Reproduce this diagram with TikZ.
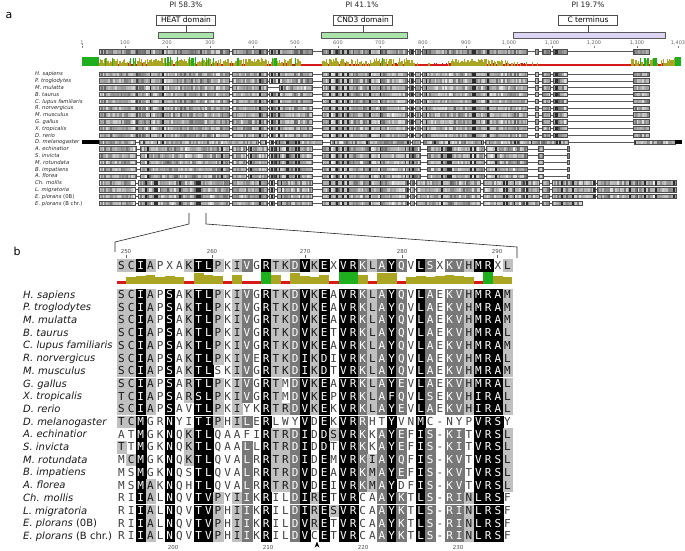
\documentclass[tikz,border=0pt]{standalone}
\usepackage{fontspec}
\setmainfont{DejaVu Sans}
\newfontfamily\alnmono{DejaVu Sans Mono}
\definecolor{olivebar}{RGB}{170,165,35}
\definecolor{greenbar}{RGB}{30,175,30}
\definecolor{redbar}{RGB}{215,25,25}
\definecolor{domgreen}{RGB}{170,228,170}
\definecolor{dompurple}{RGB}{222,212,246}
\definecolor{lgray}{RGB}{192,192,192}
\definecolor{dgray}{RGB}{120,120,120}

\ExplSyntaxOn
\int_new:N \l_aln_count_int
\int_new:N \l_aln_sum_int
\tl_new:N \l_aln_a_tl
\tl_new:N \l_aln_b_tl
\tl_new:N \alnchar
\tl_new:N \alnlevel
\tl_new:N \alnident
\str_const:Nn \c_aln_pairs_str {,AS,SA,ST,TS,SN,NS,ND,DN,NH,HN,DE,ED,QE,EQ,QK,KQ,QR,RQ,EK,KE,RK,KR,HY,YH,IL,LI,IM,MI,IV,VI,LM,ML,LV,VL,MV,VM,FY,YF,FW,WF,WY,YW,}
\cs_new_protected:Npn \aln_level:nn #1#2
 {
  \tl_set:Nx \l_aln_a_tl { \exp_args:Nc \str_item:Nn { c_aln_row_#1_str } {#2} }
  \int_zero:N \l_aln_count_int
  \int_step_inline:nn { 20 }
   {
    \tl_set:Nx \l_aln_b_tl { \exp_args:Nc \str_item:Nn { c_aln_row_##1_str } {#2} }
    \str_if_eq:VVTF \l_aln_a_tl \l_aln_b_tl
     { \int_incr:N \l_aln_count_int }
     {
      \exp_args:NNx \str_if_in:NnT \c_aln_pairs_str { , \l_aln_a_tl \l_aln_b_tl , }
       { \int_incr:N \l_aln_count_int }
     }
   }
  \str_if_eq:VnT \l_aln_a_tl { - } { \int_zero:N \l_aln_count_int }
  \str_if_eq:VnT \l_aln_a_tl { X } { \int_zero:N \l_aln_count_int }
  \tl_gset:Nx \alnchar { \l_aln_a_tl }
  \tl_gset:Nx \alnlevel
   {
    \int_compare:nNnTF \l_aln_count_int = {20} {3}
     {
      \int_compare:nNnTF \l_aln_count_int > {15} {2}
       { \int_compare:nNnTF \l_aln_count_int > {11} {1} {0} }
     }
   }
  \str_if_exist:cT { c_aln_shade_#1_str }
   { \tl_gset:Nx \alnlevel { \exp_args:Nc \str_item:Nn { c_aln_shade_#1_str } {#2} } }
 }
\cs_new_protected:Npn \aln_ident:n #1
 {
  \int_zero:N \l_aln_sum_int
  \int_step_inline:nn {20}
   {
    \tl_set:Nx \l_aln_a_tl { \exp_args:Nc \str_item:Nn { c_aln_row_##1_str } {#1} }
    \int_step_inline:nn {20}
     {
      \tl_set:Nx \l_aln_b_tl { \exp_args:Nc \str_item:Nn { c_aln_row_####1_str } {#1} }
      \str_if_eq:VVT \l_aln_a_tl \l_aln_b_tl { \int_incr:N \l_aln_sum_int }
     }
   }
  \tl_gset:Nx \alnident { \fp_eval:n { (\l_aln_sum_int - 20)/380 } }
 }
\NewDocumentCommand \alnsetrow { m m } { \str_const:cn { c_aln_row_#1_str } {#2} }
\NewDocumentCommand \alnsetshade { m m } { \str_const:cn { c_aln_shade_#1_str } {#2} }
\NewDocumentCommand \alnlevelof { m m } { \aln_level:nn {#1} {#2} }
\NewDocumentCommand \alnidentof { m } { \aln_ident:n {#1} }
\ExplSyntaxOff

\alnsetrow{0}{SCIAPXAKTLPKIVGRTKDVKEXVRKLAYQVLSXKVHMRXL}
\alnsetrow{1}{SCIAPSAKTLPKIVGRTKDVKEAVRKLAYQVLAEKVHMRAM}
\alnsetrow{2}{SCIAPSAKTLPKIVGRTKDVKEAVRKLAYQVLAEKVHMRAM}
\alnsetrow{3}{SCIAPSAKTLPKIVGRTKDVKEAVRKLAYQVLAEKVHMRAM}
\alnsetrow{4}{SCIAPSAKTLPKIVGRTKDVKETVRKLAYQVLAEKVHMRAL}
\alnsetrow{5}{SCIAPSAKTLPKIVGRTKDVKEAVRKLAYQVLAEKVHMRAM}
\alnsetrow{6}{SCIAPSAKTLPKIVERTKDIKDIVRKLAYQVLAEKVHMRAL}
\alnsetrow{7}{SCIAPSAKTLSKIVGRTKDIKDTVRKLAYQVLAEKVHMRAM}
\alnsetrow{8}{SCIAPSARTLPKIVGRTMDVKEAVRKLAYEVLAEKVHMRAL}
\alnsetrow{9}{TCIAPSARSLPKIVGRTMDVKEPVRKLAFQVLSEKVHIRAL}
\alnsetrow{10}{SCIAPSAVTLPKIYKRTRDVKEKVRKLAYEVLAEKVHIRAL}
\alnsetrow{11}{TCMGRNYITIPHILERLWYVDEKVRRHTYVNMC-NYPVRSY}
\alnsetrow{12}{ATMGKNQKTLQAAFIRTRDIDDSVRKKAYEFIS-KITVRSL}
\alnsetrow{13}{TTMGKNQKTLQAALLRTRDIDDTVRKKAYEFIS-KITVRSL}
\alnsetrow{14}{MCMGKNQKTLQVALRRTRDIDEMVRKIAYQFIS-KVTVRSL}
\alnsetrow{15}{MSMGKNQSTLQVALRRTRDVDEAVRKMAYEFIS-KVTVRSL}
\alnsetrow{16}{MSMAKNQHTLQVALRRTRDVDEIVRKMAYDFIS-KVTVRSL}
\alnsetrow{17}{RIIALNQVTVPYIIKRILDIRETVRCAAYKTLS-RINLRSF}
\alnsetrow{18}{RIIALNQVTVPHIIKRILDIRESVRCAAYKTLS-RINLRSF}
\alnsetrow{19}{RIIALNQVTVPHIIKRILDVRETVRCAAYKTLS-RINLRSF}
\alnsetrow{20}{RIIALNQVTVPHIIKRILDVCETVRCAAYKTLS-RINLRSF}

% striped overview segment: start, end, y, seed, shift
\newcommand\aseg[5]{%
  \begin{scope}
    \clip (#1,#3-2.2) rectangle (#2,#3+2.2);
    \pgfmathtruncatemacro\nst{(#2-#1)/1.8}%
    \foreach \k in {0,...,\nst}{%
      \pgfmathsetmacro\xx{#1+\k*1.8}%
      \pgfmathsetmacro\hx{mod(abs(sin(\xx*7.8233))*997,1)}%
      \pgfmathsetmacro\hr{mod(abs(sin(\xx*3.917+#4*37.1))*991,1)}%
      \pgfmathtruncatemacro\wv{\hx>0.92 ? 18 : min(97,max(10,38+60*(0.55*\hx+0.45*\hr)+#5))}%
      \fill[white!\wv!black] (\xx,#3-2.2) rectangle (\xx+1.9,#3+2.2);
    }
  \end{scope}
  \draw[segbox] (#1,#3-2.2) rectangle (#2,#3+2.2);
}
\newcommand\arow[5]{%
  \draw[gapline] (#4,#1) -- (#5,#1);
  \foreach \sa/\sb in #3 {\aseg{\sa}{\sb}{#1}{#2}{0}}
}
\def\vsegs{99/136,137/229,232/267,269/312,322/407,409/413,415/420,422/527,535/538,542/550,553/567,633/649}
\def\vsegsM{99/136,137/229,232/267,279/312,322/407,409/413,415/420,422/527,535/538,542/550,553/567,633/649}
\def\isegs{99/136,140/229,232/246,248/267,269/274,275/312,322/405,405/420,427/484,486/527,538/543,567/569}
\def\osegs{99/135,138/229,232/267,269/274,277/312,322/408,410/414,416/480,483/523,524/539,542/549,552/595,597/637,637/676}
\def\obsegs{99/135,138/229,232/267,269/274,277/312,322/408,410/414,416/480,483/523,524/539,542/549,552/582}
\def\dsegs{99/135,139/143,144/258,260/266,269/273,275/322,330/410,412/420,423/483,485/517,518/568,634/675}
\def\splist{1/{\textit{H. sapiens}},2/{\textit{P. troglodytes}},3/{\textit{M. mulatta}},4/{\textit{B. taurus}},5/{\textit{C. lupus familiaris}},6/{\textit{R. norvergicus}},7/{\textit{M. musculus}},8/{\textit{G. gallus}},9/{\textit{X. tropicalis}},10/{\textit{D. rerio}},11/{\textit{D. melanogaster}},12/{\textit{A. echinatior}},13/{\textit{S. invicta}},14/{\textit{M. rotundata}},15/{\textit{B. impatiens}},16/{\textit{A. florea}},17/{\textit{Ch. mollis}},18/{\textit{L. migratoria}},19/{\textit{E. plorans} (0B)},20/{\textit{E. plorans} (B chr.)}}

\begin{document}
\begin{tikzpicture}[x=1pt,y=-1pt,
  gapline/.style={line width=0.5pt,black!65},
  segbox/.style={line width=0.35pt,black!70},
  panellab/.style={font=\fontsize{11}{12}\selectfont,anchor=base west},
  pilab/.style={font=\fontsize{7.5}{8}\selectfont,text=black!85},
  dombox/.style={draw=black!70,line width=0.5pt,fill=white,minimum width=59pt,minimum height=10pt,inner sep=0pt,font=\fontsize{7.5}{8}\selectfont},
  dombar/.style={draw=black!65,line width=0.5pt,minimum height=6pt,inner sep=0pt},
  rulerlab/.style={font=\fontsize{5}{5}\selectfont,text=black!60},
  speca/.style={font=\fontsize{5.3}{6}\selectfont,text=black!85,anchor=base west,inner sep=0pt},
  specb/.style={font=\fontsize{10}{12}\selectfont,text=black!90,anchor=base west,inner sep=0pt},
  cellbase/.style={minimum width=9.65pt,minimum height=11.5pt,inner sep=0pt,text height=8pt,text depth=0pt,font=\alnmono\fontsize{11}{11}\selectfont},
  cellA/.style={cellbase,text=black!75},
  cellB/.style={cellbase,fill=lgray,draw=lgray,line width=0.2pt,text=black!90},
  cellC/.style={cellbase,fill=dgray,draw=dgray,line width=0.2pt,text=white},
  cellD/.style={cellbase,fill=black,draw=black,line width=0.2pt,text=white},
  numlab/.style={font=\fontsize{5.5}{6}\selectfont,text=black!70},
  zoomline/.style={line width=0.6pt,black!85}]
\useasboundingbox (0,0) rectangle (685,551);

% ---------------- panel a ----------------
\node[panellab] (la) at (2,18.5) {a};

\node[pilab] (pi1) at (186,4.5) {PI 58.3\%};
\node[dombox] (heat) at (186,20) {HEAT domain};
\node[dombar,fill=domgreen,minimum width=55pt] (heatbar) at (185.5,35) {};
\draw[black!70,line width=0.5pt] (heat.south) -- (heat.south |- heatbar.north);

\node[pilab] (pi2) at (362,4.5) {PI 41.1\%};
\node[dombox] (cnd) at (363,20) {CND3 domain};
\node[dombar,fill=domgreen,minimum width=86pt] (cndbar) at (364,35) {};
\draw[black!70,line width=0.5pt] (cnd.south) -- (cnd.south |- cndbar.north);

\node[pilab] (pi3) at (588,4.5) {PI 19.7\%};
\node[dombox] (cter) at (588,20) {C terminus};
\node[dombar,fill=dompurple,minimum width=152pt] (cterbar) at (589,35) {};
\draw[black!70,line width=0.5pt] (cter.south) -- (cter.south |- cterbar.north);

% ruler
\foreach \lab/\xp in {1/82,100/125,200/167,300/210,400/253,500/295,600/338,700/380,800/423,900/466,{1,000}/509,{1,100}/552,{1,200}/594,{1,300}/637,{1,403}/678}{
  \node[rulerlab] at (\xp,43) {\lab};
  \draw[black!50,line width=0.3pt] (\xp,46.3) -- (\xp,48.3);
}
\draw[black!50,line width=0.3pt,dotted] (82,44.5) -- (82,48.3);

% consensus overview row
\draw[gapline] (99,51.5) -- (649,51.5);
\foreach \sa/\sb in \vsegs {\aseg{\sa}{\sb}{51.5}{0}{-8}}

% identity graph
\fill[greenbar] (82,57) rectangle (99,66);
\fill[greenbar] (675,57) rectangle (681,66);
\foreach \k in {0,...,479}{
  \pgfmathsetmacro\xx{99+\k*1.2}
  \pgfmathsetmacro\bs{(\xx<160)?0.55:((\xx<200)?0.68:((\xx<300)?0.55:((\xx<322)?0.1:((\xx<420)?0.52:((\xx<447)?0.18:((\xx<512)?0.5:((\xx<540)?0.26:((\xx<630)?0.1:0.55))))))))}
  \pgfmathsetmacro\ff{\bs*(0.3+1.4*mod(abs(sin(\xx*9.137))*997,1))}
  \pgfmathtruncatemacro\cat{\ff>0.86?2:(\ff>=0.3?1:0)}
  \pgfmathsetmacro\hh{max(1.5,9*min(\ff,1))}
  \ifcase\cat
    \fill[redbar] (\xx,66-\hh) rectangle (\xx+1.25,66);
  \or
    \fill[olivebar] (\xx,66-\hh) rectangle (\xx+1.25,66);
  \or
    \fill[greenbar] (\xx,66-\hh) rectangle (\xx+1.25,66);
  \fi
}

% species overview rows
\arow{74}{1}{\vsegs}{99}{649}
\arow{80.8}{2}{\vsegs}{99}{649}
\arow{87.6}{3}{\vsegsM}{99}{649}
\arow{94.4}{4}{\vsegs}{99}{649}
\arow{101.2}{5}{\vsegs}{99}{649}
\arow{108}{6}{\vsegs}{99}{649}
\arow{114.8}{7}{\vsegs}{99}{649}
\arow{121.6}{8}{\vsegs}{99}{650}
\arow{128.4}{9}{\vsegs}{99}{649}
\arow{135.2}{10}{\vsegs}{99}{650}
\fill[black] (82,139.8) rectangle (99,144.2);
\arow{142}{11}{\dsegs}{99}{682}
\fill[black] (675,139.8) rectangle (682,144.2);
\arow{148.8}{12}{\isegs}{99}{569}
\arow{155.6}{13}{\isegs}{99}{569}
\arow{162.4}{14}{\isegs}{99}{569}
\arow{169.2}{15}{\isegs}{99}{569}
\arow{176}{16}{\isegs}{99}{569}
\arow{182.8}{17}{\osegs}{99}{676}
\arow{189.6}{18}{\osegs}{99}{676}
\arow{196.4}{19}{\osegs}{99}{676}
\arow{203.2}{20}{\obsegs}{99}{582}

\foreach \i/\nm in \splist {
  \node[speca] at (35,{74+(\i-1)*6.8+1.9}) {\nm};
}

% zoom lines
\coordinate (za) at (189,213);
\coordinate (zb) at (206,213);
\coordinate (bl) at (115,242);
\coordinate (br) at (517,247);
\draw[zoomline] (za) -- ++(0,11) -- (bl) -- ++(0,10);
\draw[zoomline] (zb) -- ++(0,11) -- (br) -- ++(0,11);

% ---------------- panel b ----------------
\node[panellab] (lb) at (10,255) {b};

\foreach \lab/\xp in {250/126,260/212,270/305,280/402,290/497}{
  \node[numlab] at (\xp,251) {\lab};
  \draw[black!60,line width=0.4pt] (\xp,254.5) -- (\xp,258);
}

% identity histogram
\foreach \cc in {1,...,41}{
  \alnidentof{\cc}
  \pgfmathsetmacro\xc{121.5+(\cc-1)*9.65}
  \pgfmathtruncatemacro\cat{\alnident>0.999?2:(\alnident>=0.3?1:0)}
  \pgfmathsetmacro\hh{\cat==0 ? 2.8 : 3.5+8*\alnident}
  \ifcase\cat
    \fill[redbar] (\xc-4.85,283.5-\hh) rectangle (\xc+4.85,283.5);
  \or
    \fill[olivebar] (\xc-4.85,283.5-\hh) rectangle (\xc+4.85,283.5);
  \or
    \fill[greenbar] (\xc-4.85,283.5-\hh) rectangle (\xc+4.85,283.5);
  \fi
}

% alignment cells
\foreach \rr in {0,...,20}{
  \pgfmathsetmacro\yc{\rr==0 ? 265 : 294.5+(\rr-1)*12.7}
  \foreach \cc in {1,...,41}{
    \alnlevelof{\rr}{\cc}
    \pgfmathsetmacro\xc{121.5+(\cc-1)*9.65}
    \ifcase\alnlevel
      \node[cellA] at (\xc,\yc) {\alnchar};
    \or
      \node[cellB] at (\xc,\yc) {\alnchar};
    \or
      \node[cellC] at (\xc,\yc) {\alnchar};
    \or
      \node[cellD] at (\xc,\yc) {\alnchar};
    \fi
  }
}

\foreach \i/\nm in \splist {
  \node[specb] at (23,{294.5+(\i-1)*12.7+3.6}) {\nm};
}

% bottom numbering and marker
\foreach \lab/\xp in {200/173,210/268,220/363,230/458}{
  \node[numlab] at (\xp,547) {\lab};
}
\coordinate (mk) at (317,541.5);
\fill[black] (mk) -- ++(-2.4,6) -- ++(2.4,-1.6) -- ++(2.4,1.6) -- cycle;
\end{tikzpicture}
\end{document}
